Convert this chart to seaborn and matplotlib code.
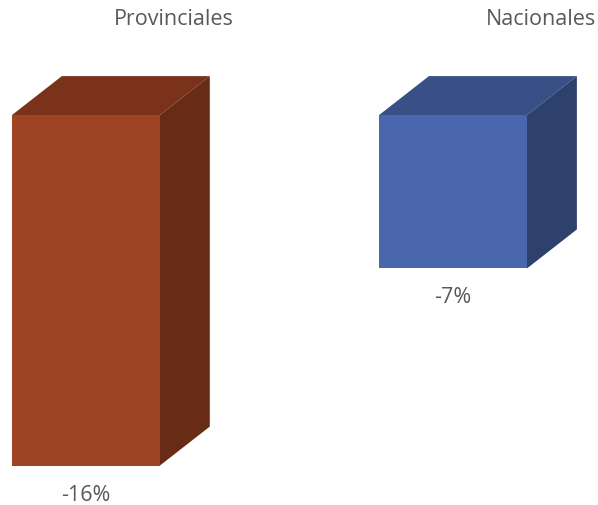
import matplotlib.pyplot as plt
import seaborn as sns
from matplotlib.patches import Polygon

categories = ["Provinciales", "Nacionales"]
values = [-16, -7]
value_labels = ["-16%", "-7%"]

front_colors = ["#9E4324", "#4A67AD"]
top_colors = ["#7A331A", "#395086"]
side_colors = ["#682B15", "#2E406C"]

# depth of the fake 3D box (category units, value units)
DX = 0.136
DY = 1.78


def plot() -> None:
    sns.set_theme(style="white")
    plt.rcParams["font.family"] = ["Open Sans", "DejaVu Sans"]

    fig = plt.figure(figsize=(5.98, 5.06), dpi=100)
    ax = fig.add_axes([0, 0, 1, 1])

    sns.barplot(
        x=categories,
        y=values,
        hue=categories,
        palette=front_colors,
        width=0.403,
        legend=False,
        saturation=1,
        ax=ax,
    )

    for i, patch in enumerate(ax.patches):
        x0 = patch.get_x()
        x1 = x0 + patch.get_width()
        v = patch.get_y() + patch.get_height()
        patch.set_zorder(3)
        patch.set_edgecolor("none")
        top = Polygon(
            [(x0, 0), (x1, 0), (x1 + DX, DY), (x0 + DX, DY)],
            closed=True, facecolor=top_colors[i], edgecolor="none", zorder=2,
        )
        side = Polygon(
            [(x1, 0), (x1 + DX, DY), (x1 + DX, v + DY), (x1, v)],
            closed=True, facecolor=side_colors[i], edgecolor="none", zorder=2,
        )
        ax.add_patch(top)
        ax.add_patch(side)
        ax.text(x0 + patch.get_width() / 2, v - 1.3, value_labels[i],
                ha="center", va="center", fontsize=15.5, color="#595959")
        ax.text(i + 0.24, 4.39, categories[i], ha="center", va="center",
                fontsize=15.5, color="#595959")

    ax.set_xlim(-0.234, 1.395)
    ax.set_ylim(-17.8, 5.3)
    ax.set_axis_off()

    fig.savefig("out.png", dpi=100)


if __name__ == "__main__":
    plot()
